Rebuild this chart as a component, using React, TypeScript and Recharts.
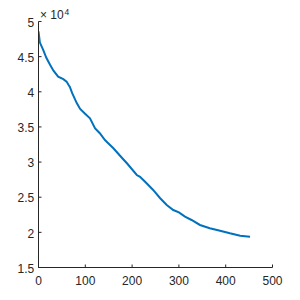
import React from "react";
import { LineChart, Line, XAxis, YAxis } from "recharts";

const xValues = [0, 3, 10, 17, 25, 32, 42, 53, 60, 64, 67, 72, 82, 89, 99, 110, 121, 131, 142, 149, 160, 181, 189, 210, 217, 231, 245, 260, 274, 288, 300, 313, 327, 345, 366, 388, 409, 431, 452];
const yValues = [48600, 47000, 45950, 44800, 43800, 43000, 42150, 41800, 41450, 41000, 40700, 39800, 38360, 37550, 36900, 36230, 34800, 34100, 33140, 32670, 31960, 30400, 29830, 28160, 27900, 26980, 26030, 24850, 23900, 23180, 22850, 22230, 21760, 21050, 20580, 20240, 19870, 19530, 19380];
const xTicks = [0, 100, 200, 300, 400, 500];
const yTicks = [15000, 20000, 25000, 30000, 35000, 40000, 45000, 50000];
const exponentBase = "\u00d7 10";
const exponentPower = "4";

const data = xValues.map((x, i) => ({ x, y: yValues[i] }));

const AXIS = "#262626";
const FONT = "'Liberation Sans', Arial, sans-serif";
const TL = 3;

const BottomTick = (props: any) => {
  const { x, y, payload } = props;
  return (
    <g>
      <line x1={x} y1={y} x2={x} y2={y - TL} stroke={AXIS} strokeWidth={1} />
      <text x={x} y={y + 17.5} textAnchor="middle" fontSize={12} fill={AXIS} fontFamily={FONT}>
        {payload.value}
      </text>
    </g>
  );
};

const TopTick = (props: any) => {
  const { x, y } = props;
  return <line x1={x} y1={y} x2={x} y2={y + TL} stroke={AXIS} strokeWidth={1} />;
};

const LeftTick = (props: any) => {
  const { x, y, payload } = props;
  return (
    <g>
      <line x1={x} y1={y} x2={x + TL} y2={y} stroke={AXIS} strokeWidth={1} />
      <text x={x - 4.2} y={y + 5.2} textAnchor="end" fontSize={12} fill={AXIS} fontFamily={FONT}>
        {payload.value / 10000}
      </text>
      {payload.value === 50000 ? (
        <g>
          <text x={x + 1.5} y={y - 3} fontSize={12} fill={AXIS} fontFamily={FONT}>
            {exponentBase}
          </text>
          <text x={x + 26} y={y - 6.5} fontSize={8.5} fill={AXIS} fontFamily={FONT}>
            {exponentPower}
          </text>
        </g>
      ) : null}
    </g>
  );
};

const RightTick = (props: any) => {
  const { x, y } = props;
  return <line x1={x} y1={y} x2={x - TL} y2={y} stroke={AXIS} strokeWidth={1} />;
};

export default function App() {
  return (
    <LineChart
      width={284}
      height={284}
      data={data}
      margin={{ top: 13.5, right: 19.5, left: 0, bottom: 0 }}
      style={{ background: "#fff" }}
    >
      <XAxis
        dataKey="x"
        type="number"
        domain={[0, 500]}
        ticks={xTicks}
        height={24.5}
        tickSize={0}
        tickMargin={0}
        tickLine={false}
        axisLine={{ stroke: AXIS }}
        tick={BottomTick}
        interval={0}
        allowDataOverflow
      />
      <XAxis
        xAxisId="top"
        orientation="top"
        dataKey="x"
        type="number"
        domain={[0, 500]}
        ticks={xTicks}
        height={0}
        tickSize={0}
        tickMargin={0}
        tickLine={false}
        axisLine={{ stroke: AXIS }}
        tick={TopTick}
        interval={0}
        allowDataOverflow
      />
      <YAxis
        type="number"
        domain={[15000, 50000]}
        ticks={yTicks}
        width={30.5}
        tickSize={0}
        tickMargin={0}
        tickLine={false}
        axisLine={{ stroke: AXIS }}
        tick={LeftTick}
        interval={0}
        allowDataOverflow
      />
      <YAxis
        yAxisId="right"
        orientation="right"
        type="number"
        domain={[15000, 50000]}
        ticks={yTicks}
        width={0}
        tickSize={0}
        tickMargin={0}
        tickLine={false}
        axisLine={{ stroke: AXIS }}
        tick={RightTick}
        interval={0}
        allowDataOverflow
      />
      <Line
        dataKey="y"
        type="linear"
        stroke="#0072BD"
        strokeWidth={2}
        dot={false}
        isAnimationActive={false}
      />
    </LineChart>
  );
}
